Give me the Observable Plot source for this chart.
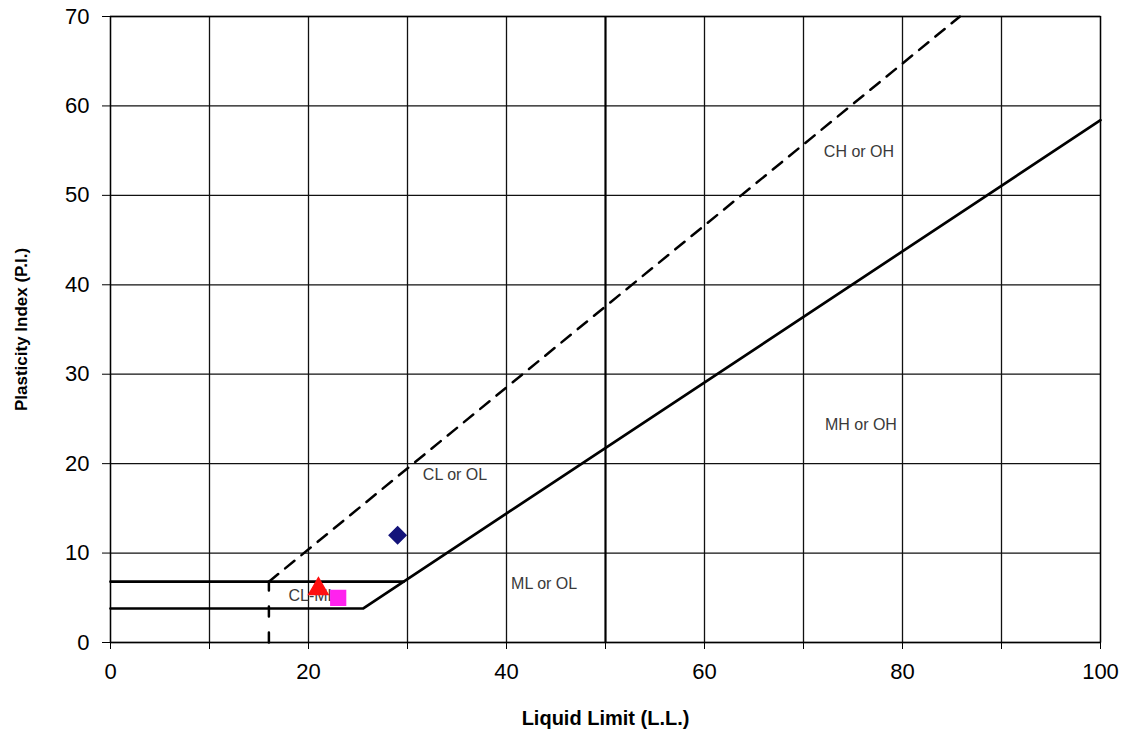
<!DOCTYPE html>
<html>
<head>
<meta charset="utf-8">
<script src="https://cdn.jsdelivr.net/npm/d3@7"></script>
<script src="https://cdn.jsdelivr.net/npm/@observablehq/plot@0.6"></script>
<style>
  html, body { margin: 0; padding: 0; background: #fff; }
  #chart svg { font-family: "Liberation Sans", Arial, sans-serif; }
  #chart svg [aria-label="x-axis label"] text { font-weight: bold; font-size: 20px; }
  #chart svg [aria-label="y-axis label"] text { font-weight: bold; font-size: 17px; }
</style>
</head>
<body>
<div id="chart"></div>
<script>
// Grid / ticks
const gridLL = [0, 10, 20, 30, 40, 50, 60, 70, 80, 90, 100];
const gridPI = [0, 10, 20, 30, 40, 50, 60, 70];
const tickLabelLL = [0, 20, 40, 60, 80, 100];

// A-line with lower horizontal at PI = 4
const aLineLL = [0, 25.5, 100];
const aLinePI = [3.8, 3.8, 58.4];
// Horizontal at PI = 7
const pi7LL = [0, 29.6];
const pi7PI = [6.8, 6.8];
// U-line (dashed)
const uLineLL = [16, 85.8];
const uLinePI = [6.8, 70];
// Vertical dashed at LL = 16
const vLL = [16, 16];
const vPI = [0, 6.8];

// Zone labels
const zoneNames = ["CH or OH", "MH or OH", "CL or OL", "ML or OL", "CL-ML"];
const zoneLL = [75.6, 75.8, 34.8, 43.8, 20.4];
const zonePI = [54.9, 24.3, 18.7, 6.6, 5.2];

// Samples
const sampleLL = [29, 21, 23];
const samplePI = [12, 6, 5];
const sampleSymbol = ["diamond2", "triangle", "square"];
const sampleColor = ["#14147a", "#ff1010", "#ff22ee"];
const sampleSize = [7.6, 7.2, 8.3];

const pts = (xs, ys) => xs.map((x, i) => ({x, y: ys[i]}));
const zones = zoneNames.map((t, i) => ({t, x: zoneLL[i], y: zonePI[i]}));
const samples = sampleLL.map((x, i) => ({x, y: samplePI[i], s: sampleSymbol[i], c: sampleColor[i], r: sampleSize[i]}));

const chart = Plot.plot({
  width: 1127,
  height: 733,
  marginLeft: 110,
  marginRight: 27,
  marginTop: 16,
  marginBottom: 91,
  style: {fontFamily: "'Liberation Sans', Arial, sans-serif", fontSize: "22px", background: "#fff", color: "#000"},
  x: {domain: [0, 100]},
  y: {domain: [0, 70]},
  r: {type: "identity"},
  marks: [
    Plot.ruleX(gridLL.filter(d => d !== 50), {stroke: "#111", strokeWidth: 1.3}),
    Plot.ruleY(gridPI, {stroke: "#111", strokeWidth: 1.3}),
    Plot.ruleX([50], {stroke: "#000", strokeWidth: 2.2}),
    Plot.axisX({ticks: gridLL, tickSize: 7, tickPadding: 14, tickFormat: d => tickLabelLL.includes(d) ? String(d) : "",
      label: "Liquid Limit (L.L.)", labelAnchor: "center", labelOffset: 82, labelArrow: "none"}),
    Plot.axisY({ticks: gridPI, tickSize: 8, tickPadding: 13,
      label: "Plasticity Index (P.I.)", labelAnchor: "center", labelOffset: 96, labelArrow: "none"}),
    Plot.line(pts(aLineLL, aLinePI), {x: "x", y: "y", stroke: "#000", strokeWidth: 2.7}),
    Plot.line(pts(pi7LL, pi7PI), {x: "x", y: "y", stroke: "#000", strokeWidth: 2.7}),
    Plot.line(pts(uLineLL, uLinePI), {x: "x", y: "y", stroke: "#000", strokeWidth: 2.5, strokeDasharray: "12,9"}),
    Plot.line(pts(vLL, vPI), {x: "x", y: "y", stroke: "#000", strokeWidth: 2.5, strokeDasharray: "10,16"}),
    Plot.text(zones, {x: "x", y: "y", text: "t", fill: "#3a3a3a", fontSize: 16}),
    Plot.dot(samples, {x: "x", y: "y", symbol: "s", fill: "c", stroke: "c", r: "r"}),
    Plot.frame({stroke: "#000", strokeWidth: 1.3})
  ]
});
document.getElementById("chart").appendChild(chart);
</script>
</body>
</html>
